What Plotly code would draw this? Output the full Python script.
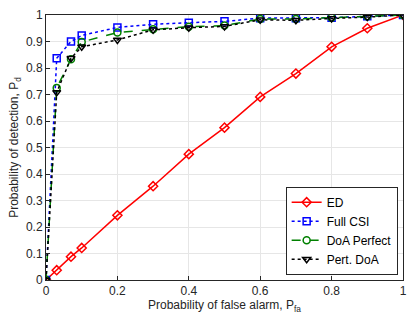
import plotly.graph_objects as go

pfa = [0, 0.03, 0.07, 0.1, 0.2, 0.3, 0.4, 0.5, 0.6, 0.7, 0.8, 0.9, 1.0]
pd_ed = [0, 0.037, 0.088, 0.121, 0.244, 0.354, 0.475, 0.575, 0.691, 0.779, 0.88, 0.95, 1.0]
pd_full = [0, 0.837, 0.90, 0.923, 0.953, 0.965, 0.971, 0.976, 0.988, 0.988, 0.99, 0.995, 1.0]
pd_doa = [0, 0.725, 0.833, 0.898, 0.934, 0.946, 0.956, 0.96, 0.985, 0.985, 0.99, 0.995, 1.0]
pd_pert = [0, 0.708, 0.837, 0.88, 0.906, 0.944, 0.952, 0.957, 0.982, 0.98, 0.987, 0.992, 1.0]

fig = go.Figure()
series = [
    ("ED", pd_ed, "#ff0000", "solid", "diamond-open"),
    ("Full CSI", pd_full, "#0000ff", "dot", "square-open"),
    ("DoA Perfect", pd_doa, "#008000", "dash", "circle-open"),
    ("Pert. DoA", pd_pert, "#000000", "dot", "triangle-down-open"),
]
for name, y, c, dash, sym in series:
    fig.add_trace(go.Scatter(
        x=pfa, y=y, name=name, mode="lines+markers",
        line=dict(color=c, width=1.5, dash=dash),
        marker=dict(symbol=sym, size=7, color=c, line=dict(width=1.5, color=c)),
    ))

axis_common = dict(
    showgrid=True, gridcolor="#e6e6e6", gridwidth=1,
    showline=True, linecolor="#262626", linewidth=1, mirror=True,
    ticks="inside", ticklen=4, tickcolor="#262626",
    tickfont=dict(family="Liberation Sans, Arial", size=12, color="#262626"),
    zeroline=False,
)
fig.update_layout(
    width=415, height=319,
    margin=dict(l=46, r=9, t=8, b=39),
    paper_bgcolor="white", plot_bgcolor="white",
    font=dict(family="Liberation Sans, Arial", size=12, color="#262626"),
    xaxis=dict(range=[0, 1], dtick=0.2, tickformat="~g",
               title=dict(text="Probability of false alarm, P<sub>fa</sub>", standoff=2,
                          font=dict(size=12, color="#262626")),
               **axis_common),
    yaxis=dict(range=[0, 1], dtick=0.1, tickformat="~g",
               title=dict(text="Probability of detection, P<sub>d</sub>", standoff=4,
                          font=dict(size=12, color="#262626")),
               **axis_common),
    legend=dict(x=0.985, y=0.02, xanchor="right", yanchor="bottom",
                bgcolor="white", bordercolor="#262626", borderwidth=1,
                font=dict(size=12, color="#000000"), tracegroupgap=0,
                itemwidth=30),
    showlegend=True,
)
fig.write_html("out.html", config={"displayModeBar": False},
               post_script="document.body.style.margin='0';")
